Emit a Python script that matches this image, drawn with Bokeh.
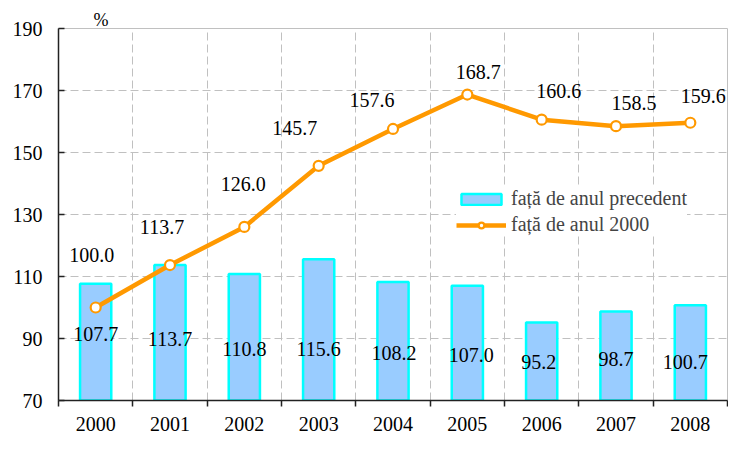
from bokeh.plotting import figure
from bokeh.models import (ColumnDataSource, FixedTicker, Range1d, Legend,
                          LegendItem, Title)
from bokeh.core.properties import value
from bokeh.embed import file_html
from bokeh.resources import INLINE

# ---- data ----
years = ["2000", "2001", "2002", "2003", "2004", "2005", "2006", "2007", "2008"]
vs_prev_year = [107.7, 113.7, 110.8, 115.6, 108.2, 107.0, 95.2, 98.7, 100.7]
vs_2000 = [100.0, 113.7, 126.0, 145.7, 157.6, 168.7, 160.6, 158.5, 159.6]
y_ticks = [70, 90, 110, 130, 150, 170, 190]
series_names = ["față de anul precedent", "față de anul 2000"]
unit_label = "%"

# ---- label styling offsets (pixels) ----
line_lab_dx = [-4, -8, -1, -24, -21, 11, 17, 18, 13]
line_lab_dy = [-53, -38, -43, -38, -29, -23, -29, -23, -27]
bar_lab_dx = [0, 0, 0, 0, 1, 4, -3, 0, -5]
bar_lab_dy = [-20, -15, -5, -5, -1, 1, 8, 5, 8]
bar_lab_base = 85

FONT = "Liberation Serif"
FONT_CSS = "'Liberation Serif', serif"
n = len(years)
xs = [i + 0.5 for i in range(n)]

src = ColumnDataSource(dict(
    x=xs, prev=vs_prev_year, v2000=vs_2000,
    prev_lab=[f"{v:.1f}" for v in vs_prev_year],
    v2000_lab=[f"{v:.1f}" for v in vs_2000],
    base=[bar_lab_base] * n,
    ldx=line_lab_dx, ldy=line_lab_dy, bdx=bar_lab_dx, bdy=bar_lab_dy,
))

p = figure(width=728, height=434, x_range=Range1d(0, n),
           y_range=Range1d(y_ticks[0], y_ticks[-1]),
           output_backend="svg", toolbar_location=None,
           min_border_left=58, min_border_right=1,
           min_border_top=28, min_border_bottom=34)

p.background_fill_color = "white"
p.border_fill_color = "white"
p.outline_line_color = "#c0c0c0"
p.outline_line_width = 1

# unit label above the axis
p.add_layout(Title(text=unit_label, align="left", offset=35, standoff=-3,
                   text_font=FONT_CSS, text_font_size="18px",
                   text_font_style="normal", text_color="black"), "above")

# axes
p.yaxis.ticker = FixedTicker(ticks=y_ticks)
p.yaxis.major_tick_in = 6
p.yaxis.major_tick_out = 0
p.yaxis.minor_tick_line_color = None
p.yaxis.axis_line_color = "#222222"
p.yaxis.axis_line_width = 1.5
p.yaxis.major_tick_line_color = "#222222"
p.yaxis.major_tick_line_width = 1.5
p.yaxis.major_label_standoff = 16

p.xaxis.ticker = FixedTicker(ticks=xs, minor_ticks=list(range(n + 1)))
p.xaxis.major_label_overrides = {x: y for x, y in zip(xs, years)}
p.xaxis.major_tick_in = 0
p.xaxis.major_tick_out = 0
p.xaxis.minor_tick_in = 0
p.xaxis.minor_tick_out = 6
p.xaxis.minor_tick_line_color = "#222222"
p.xaxis.minor_tick_line_width = 1.5
p.xaxis.axis_line_color = "#222222"
p.xaxis.axis_line_width = 1.5
p.xaxis.major_label_standoff = 10

for ax in (p.xaxis, p.yaxis):
    ax.major_label_text_font = FONT_CSS
    ax.major_label_text_font_size = "20px"
    ax.major_label_text_font_style = "normal"
    ax.major_label_text_color = "black"

# grids
p.ygrid.ticker = FixedTicker(ticks=y_ticks)
p.xgrid.ticker = FixedTicker(ticks=list(range(1, n)))
for g in (p.xgrid, p.ygrid):
    g.grid_line_color = "#c0c0c0"
    g.grid_line_dash = "8 4"
    g.grid_line_width = 1

# bars
bars = p.vbar(x="x", top="prev", bottom=y_ticks[0], width=0.42, source=src,
              fill_color="#99CCFF", line_color="#00FFFF", line_width=2.5)

# line
ln = p.line("x", "v2000", source=src, line_color="#FF9900", line_width=4.5)
pts = p.scatter("x", "v2000", source=src, marker="circle", size=10,
                fill_color="white", line_color="#FF9900", line_width=2.2)

# data labels
p.text(x="x", y="base", text="prev_lab", source=src, x_offset="bdx", y_offset="bdy",
       text_align="center", text_baseline="middle", text_font=value(FONT),
       text_font_size="20px", text_color="black")
p.text(x="x", y="v2000", text="v2000_lab", source=src, x_offset="ldx", y_offset="ldy",
       text_align="center", text_baseline="middle", text_font=value(FONT),
       text_font_size="20px", text_color="black")

legend = Legend(items=[LegendItem(label=series_names[0], renderers=[bars]),
                       LegendItem(label=series_names[1], renderers=[ln, pts])],
                location=(398, 164), glyph_width=50, glyph_height=14,
                label_height=20, spacing=3, padding=4, margin=0,
                label_standoff=5, label_text_font=FONT_CSS,
                label_text_font_size="20px", border_line_color=None,
                background_fill_color="white", background_fill_alpha=1)
p.add_layout(legend)

open("out.html", "w").write(file_html(p, INLINE))
